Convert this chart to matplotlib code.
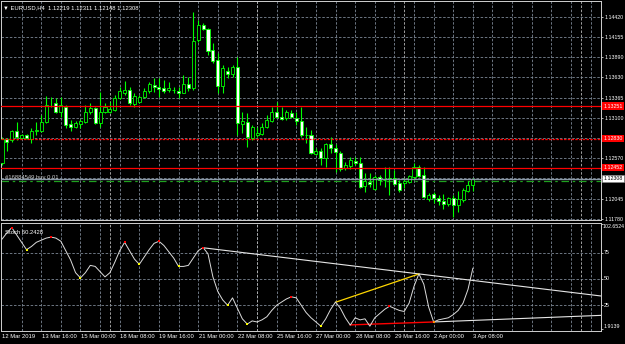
import matplotlib
matplotlib.use('Agg')
import matplotlib.pyplot as plt
import matplotlib.transforms as mtransforms
import numpy as np

plt.rcParams['font.family'] = ['Liberation Sans', 'DejaVu Sans']

# EURUSD H4 candles, bar 0 = 12 Mar 2019 08:00
opens = [1.12507, 1.12824, 1.12811, 1.12932, 1.12841, 1.12876, 1.12828, 1.12932, 1.12932, 1.13042,
         1.13255, 1.13290, 1.13180, 1.13246, 1.13016, 1.12985, 1.13016, 1.13050, 1.13180, 1.13225,
         1.13029, 1.13172, 1.13180, 1.13202, 1.13355, 1.13428, 1.13463, 1.13281, 1.13311, 1.13368,
         1.13450, 1.13533, 1.13507, 1.13494, 1.13463, 1.13463, 1.13454, 1.13428, 1.13542, 1.13486,
         1.14116, 1.14312, 1.14256, 1.13985, 1.13855, 1.13516, 1.13711, 1.13672, 1.13768, 1.13016,
         1.13050, 1.12833, 1.12876, 1.12889, 1.12977, 1.13063, 1.13180, 1.13107, 1.13094, 1.13159,
         1.13094, 1.13063, 1.12876, 1.12876, 1.12628, 1.12667, 1.12572, 1.12755, 1.12703, 1.12637,
         1.12442, 1.12472, 1.12541, 1.12515, 1.12215, 1.12267, 1.12168, 1.12324, 1.12289, 1.12311,
         1.12311, 1.12246, 1.12246, 1.12267, 1.12332, 1.12455, 1.12350, 1.12037, 1.12106, 1.12050,
         1.12015, 1.11972, 1.12050, 1.11963, 1.12028, 1.12145, 1.12219]
highs = [1.12850, 1.12837, 1.12941, 1.13050, 1.12889, 1.12889, 1.12964, 1.13050, 1.13137, 1.13385,
         1.13376, 1.13355, 1.13368, 1.13268, 1.13072, 1.13063, 1.13081, 1.13268, 1.13290, 1.13246,
         1.13441, 1.13290, 1.13311, 1.13398, 1.13499, 1.13585, 1.13499, 1.13420, 1.13398, 1.13486,
         1.13572, 1.13616, 1.13616, 1.13594, 1.13572, 1.13507, 1.13499, 1.13659, 1.13637, 1.14485,
         1.14377, 1.14334, 1.14269, 1.14073, 1.13942, 1.13790, 1.13768, 1.13790, 1.13898, 1.13180,
         1.13163, 1.13007, 1.12985, 1.13029, 1.13137, 1.13246, 1.13311, 1.13246, 1.13202, 1.13202,
         1.13180, 1.13246, 1.12985, 1.12941, 1.12703, 1.12703, 1.12776, 1.12854, 1.12759, 1.12671,
         1.12528, 1.12585, 1.12593, 1.12593, 1.12376, 1.12376, 1.12354, 1.12354, 1.12463, 1.12463,
         1.12420, 1.12289, 1.12311, 1.12354, 1.12507, 1.12485, 1.12463, 1.12123, 1.12136, 1.12093,
         1.12106, 1.12071, 1.12093, 1.12149, 1.12181, 1.12280, 1.12311]
lows = [1.12485, 1.12667, 1.12789, 1.12811, 1.12833, 1.12824, 1.12768, 1.12876, 1.12919, 1.13033,
        1.13246, 1.13159, 1.13115, 1.12964, 1.12932, 1.12964, 1.12964, 1.13037, 1.13150, 1.13020,
        1.12985, 1.13159, 1.13159, 1.13193, 1.13342, 1.13398, 1.13268, 1.13238, 1.13294, 1.13355,
        1.13420, 1.13441, 1.13368, 1.13420, 1.13441, 1.13420, 1.13355, 1.13420, 1.13454, 1.13463,
        1.14094, 1.14246, 1.13920, 1.13812, 1.13420, 1.13420, 1.13616, 1.13637, 1.12876, 1.12898,
        1.12724, 1.12811, 1.12854, 1.12876, 1.12964, 1.13050, 1.13094, 1.13072, 1.13072, 1.13094,
        1.13007, 1.12854, 1.12768, 1.12628, 1.12615, 1.12485, 1.12463, 1.12637, 1.12397, 1.12410,
        1.12419, 1.12429, 1.12485, 1.12191, 1.12136, 1.12202, 1.12158, 1.12224, 1.12202, 1.12093,
        1.12224, 1.12136, 1.12181, 1.12246, 1.12289, 1.12324, 1.12050, 1.12019, 1.11985, 1.11963,
        1.11907, 1.11950, 1.11810, 1.11875, 1.12006, 1.12136, 1.12148]
closes = [1.12820, 1.12785, 1.12932, 1.12846, 1.12876, 1.12833, 1.12932, 1.12941, 1.13046, 1.13268,
          1.13259, 1.13180, 1.13268, 1.13007, 1.12985, 1.13029, 1.13059, 1.13180, 1.13225, 1.13029,
          1.13172, 1.13242, 1.13212, 1.13355, 1.13450, 1.13463, 1.13290, 1.13385, 1.13368, 1.13450,
          1.13542, 1.13507, 1.13480, 1.13450, 1.13486, 1.13461, 1.13420, 1.13542, 1.13486, 1.14107,
          1.14312, 1.14256, 1.13976, 1.13842, 1.13516, 1.13747, 1.13668, 1.13768, 1.13029, 1.13059,
          1.12846, 1.12985, 1.12906, 1.12985, 1.13072, 1.13180, 1.13107, 1.13081, 1.13180, 1.13107,
          1.13063, 1.12876, 1.12872, 1.12645, 1.12671, 1.12572, 1.12759, 1.12703, 1.12650, 1.12429,
          1.12485, 1.12550, 1.12515, 1.12202, 1.12276, 1.12233, 1.12324, 1.12289, 1.12285, 1.12302,
          1.12237, 1.12158, 1.12276, 1.12341, 1.12463, 1.12337, 1.12063, 1.12093, 1.12050, 1.12019,
          1.11972, 1.12050, 1.11963, 1.12037, 1.12158, 1.12224, 1.12308]

stoch = [88, 94, 99, 92, 85, 78, 81, 85, 87, 89,
         90, 89, 86, 77, 68, 56, 51, 56, 63, 62,
         57, 52, 56, 66, 77, 85, 77, 69, 64, 71,
         78, 84, 86, 82, 76, 70, 62, 62, 63, 70,
         77, 80, 74, 52, 38, 30, 25, 32, 22, 12,
         7, 10, 9, 11, 14, 20, 25, 28, 31, 33,
         32, 25, 18, 13, 9, 5, 12, 21, 28, 22,
         13, 6, 13, 11, 12, 5, 13, 17, 21, 24,
         22, 20, 19, 27, 43, 55, 45, 23, 9, 11,
         12, 13, 16, 20, 27, 40, 60.2428]
peak_bars = [2, 10, 25, 32, 41, 59, 79]
trough_bars = [5, 16, 28, 36, 46, 50, 65]

# trend lines drawn on the stochastic window (bar, value)
upper_line = ([41, 122.1], [79.8, 33.8])
yellow_line = ([68, 85], [27.8, 54.8])
red_line = ([71, 88], [6.2, 9.0])
lower_line = ([88, 122.1], [9.0, 15.3])

date_bars = [0, 8, 16, 24, 32, 40, 48, 56, 64, 72, 80, 88, 96]
date_labels = ['12 Mar 2019', '13 Mar 16:00', '15 Mar 00:00', '18 Mar 08:00', '19 Mar 16:00',
               '21 Mar 00:00', '22 Mar 08:00', '25 Mar 16:00', '27 Mar 00:00', '28 Mar 08:00',
               '29 Mar 16:00', '2 Apr 00:00', '3 Apr 08:00']

price_ticks = [1.14420, 1.14155, 1.13890, 1.13630, 1.13365, 1.13100, 1.12835,
               1.12570, 1.12310, 1.12045, 1.11780]
price_labels = ['1.14420', '1.14155', '1.13890', '1.13630', '1.13365', '1.13100', '',
                '1.12570', '', '1.12045', '1.11780']

red_levels = [1.13251, 1.12830, 1.12452]
bid = 1.12308
order_price = 1.12272

grid_c = '#7d8896'
frame_c = '#d0d0d0'
lime = '#00ff00'
fs = 4.2
fs_r = 3.8

fig = plt.figure(figsize=(6.25, 3.44), dpi=100, facecolor='black')
ax = fig.add_axes([1.5 / 625, 124 / 344, 599.5 / 625, 219 / 344], facecolor='black')
ax2 = fig.add_axes([1.5 / 625, 13.5 / 344, 599.5 / 625, 108 / 344], facecolor='black')

xmin, xmax = -0.1, 122.12
grid_bars = list(range(4, 122, 4))
separators = [22, 52, 82, 118]

for a in (ax, ax2):
    a.set_xlim(xmin, xmax)
    a.set_xticks([])
    for s in a.spines.values():
        s.set_color(frame_c)
        s.set_linewidth(0.7)
    for b in grid_bars:
        a.axvline(b, color=grid_c, lw=0.6, ls=(0, (3, 2)), zorder=0)
    for b in separators:
        a.axvline(b, color='#b8b8b8', lw=0.6, ls=(0, (3, 2)), zorder=0)

# ---------------- main price window ----------------
ax.set_ylim(1.11767, 1.14625)
ax.yaxis.tick_right()
ax.set_yticks(price_ticks)
ax.set_yticklabels(price_labels)
ax.tick_params(axis='y', colors='white', labelsize=fs_r, length=1.5, width=0.5, pad=0.8)
for p in price_ticks:
    ax.axhline(p, color=grid_c, lw=0.6, ls=(0, (3, 2)), zorder=0)

x = np.arange(len(opens))
o = np.array(opens)
h = np.array(highs)
l = np.array(lows)
c = np.array(closes)
up = c >= o
ax.vlines(x, l, h, color=lime, lw=0.8, zorder=2)
ax.bar(x, np.maximum(np.abs(c - o), 0.00002), bottom=np.minimum(o, c), width=0.62,
       color=np.where(up, 'black', 'white'), edgecolor=lime, linewidth=0.6, zorder=3)

ax.axhline(red_levels[0], color='red', lw=0.9, zorder=4)
ax.axhline(red_levels[1], color='red', lw=0.9, ls=(0, (2, 1)), zorder=4)
ax.axhline(red_levels[2], color='red', lw=0.9, zorder=4)
ax.axhline(bid, color='#8a99a8', lw=0.9, zorder=4)
ax.axhline(order_price, color='#1fa01f', lw=0.9, ls=(0, (6, 3, 2, 3)), zorder=1)

trans = mtransforms.blended_transform_factory(ax.transAxes, ax.transData)
for lv in red_levels:
    ax.text(1.004, lv, '%.5f' % lv, transform=trans, color='white', fontsize=fs_r,
            va='center', ha='left', clip_on=False,
            bbox=dict(boxstyle='square,pad=0.25', fc='red', ec='red', lw=0))
ax.text(1.004, bid, '%.5f' % bid, transform=trans, color='black', fontsize=fs_r,
        va='center', ha='left', clip_on=False,
        bbox=dict(boxstyle='square,pad=0.25', fc='white', ec='#888888', lw=0.4))
ax.text(0.006, 1.12325, '#16884549 buy 0.01', transform=trans, color='#c8c8c8',
        fontsize=fs, va='center', ha='left')

fig.text(3 / 625, 1 - 8 / 344, '\u25bc EURUSD,H4  1.12219 1.12311 1.12148 1.12308',
         color='white', fontsize=fs, va='center', ha='left')

# ---------------- stochastic window ----------------
ax2.set_ylim(0.86, 103.9)
ax2.yaxis.tick_right()
ax2.set_yticks([102.6524, 75, 50, 25, 1.9139])
ax2.set_yticklabels([])
ax2.tick_params(axis='y', colors='white', length=1.5, width=0.5)
for v in (75, 50, 25):
    ax2.axhline(v, color=grid_c, lw=0.6, ls=(0, (3, 2)), zorder=0)

ax2.plot(upper_line[0], upper_line[1], color='#e6e6e6', lw=0.8)
ax2.plot(lower_line[0], lower_line[1], color='#e6e6e6', lw=0.8)
ax2.plot(yellow_line[0], yellow_line[1], color='#ffd700', lw=0.9)
ax2.plot(red_line[0], red_line[1], color='red', lw=1.0)
ax2.plot(x, stoch, color='#dcdcdc', lw=0.7)
st = np.array(stoch)
ax2.plot(peak_bars, st[peak_bars], 's', color='red', ms=1.6, mew=0)
ax2.plot(trough_bars, st[trough_bars], 's', color='yellow', ms=1.6, mew=0)
ax2.plot([88], [st[88]], 's', color='#ff8c00', ms=1.6, mew=0)

trans2 = mtransforms.blended_transform_factory(ax2.transAxes, ax2.transData)
ax2.text(1.0025, 102.6524, '102.6524', transform=trans2, color='white', fontsize=fs_r,
         va='top', ha='left', clip_on=False)
for v in (75, 50, 25):
    ax2.text(1.005, v, str(v), transform=trans2, color='white', fontsize=fs_r,
             va='center', ha='left', clip_on=False)
ax2.text(1.005, 1.9139, '1.9139', transform=trans2, color='white', fontsize=fs_r,
         va='bottom', ha='left', clip_on=False)
ax2.text(0.006, 0.91, 'Stoch 60.2428', transform=ax2.transAxes, color='white',
         fontsize=fs, va='center', ha='left')

trans3 = mtransforms.blended_transform_factory(ax2.transData, ax2.transAxes)
for b, lab in zip(date_bars, date_labels):
    ax2.text(b + 0.1, -0.06, lab, transform=trans3, color='white', fontsize=fs,
             va='center', ha='left', clip_on=False)

fig.savefig('out.png', dpi=100, facecolor='black')
